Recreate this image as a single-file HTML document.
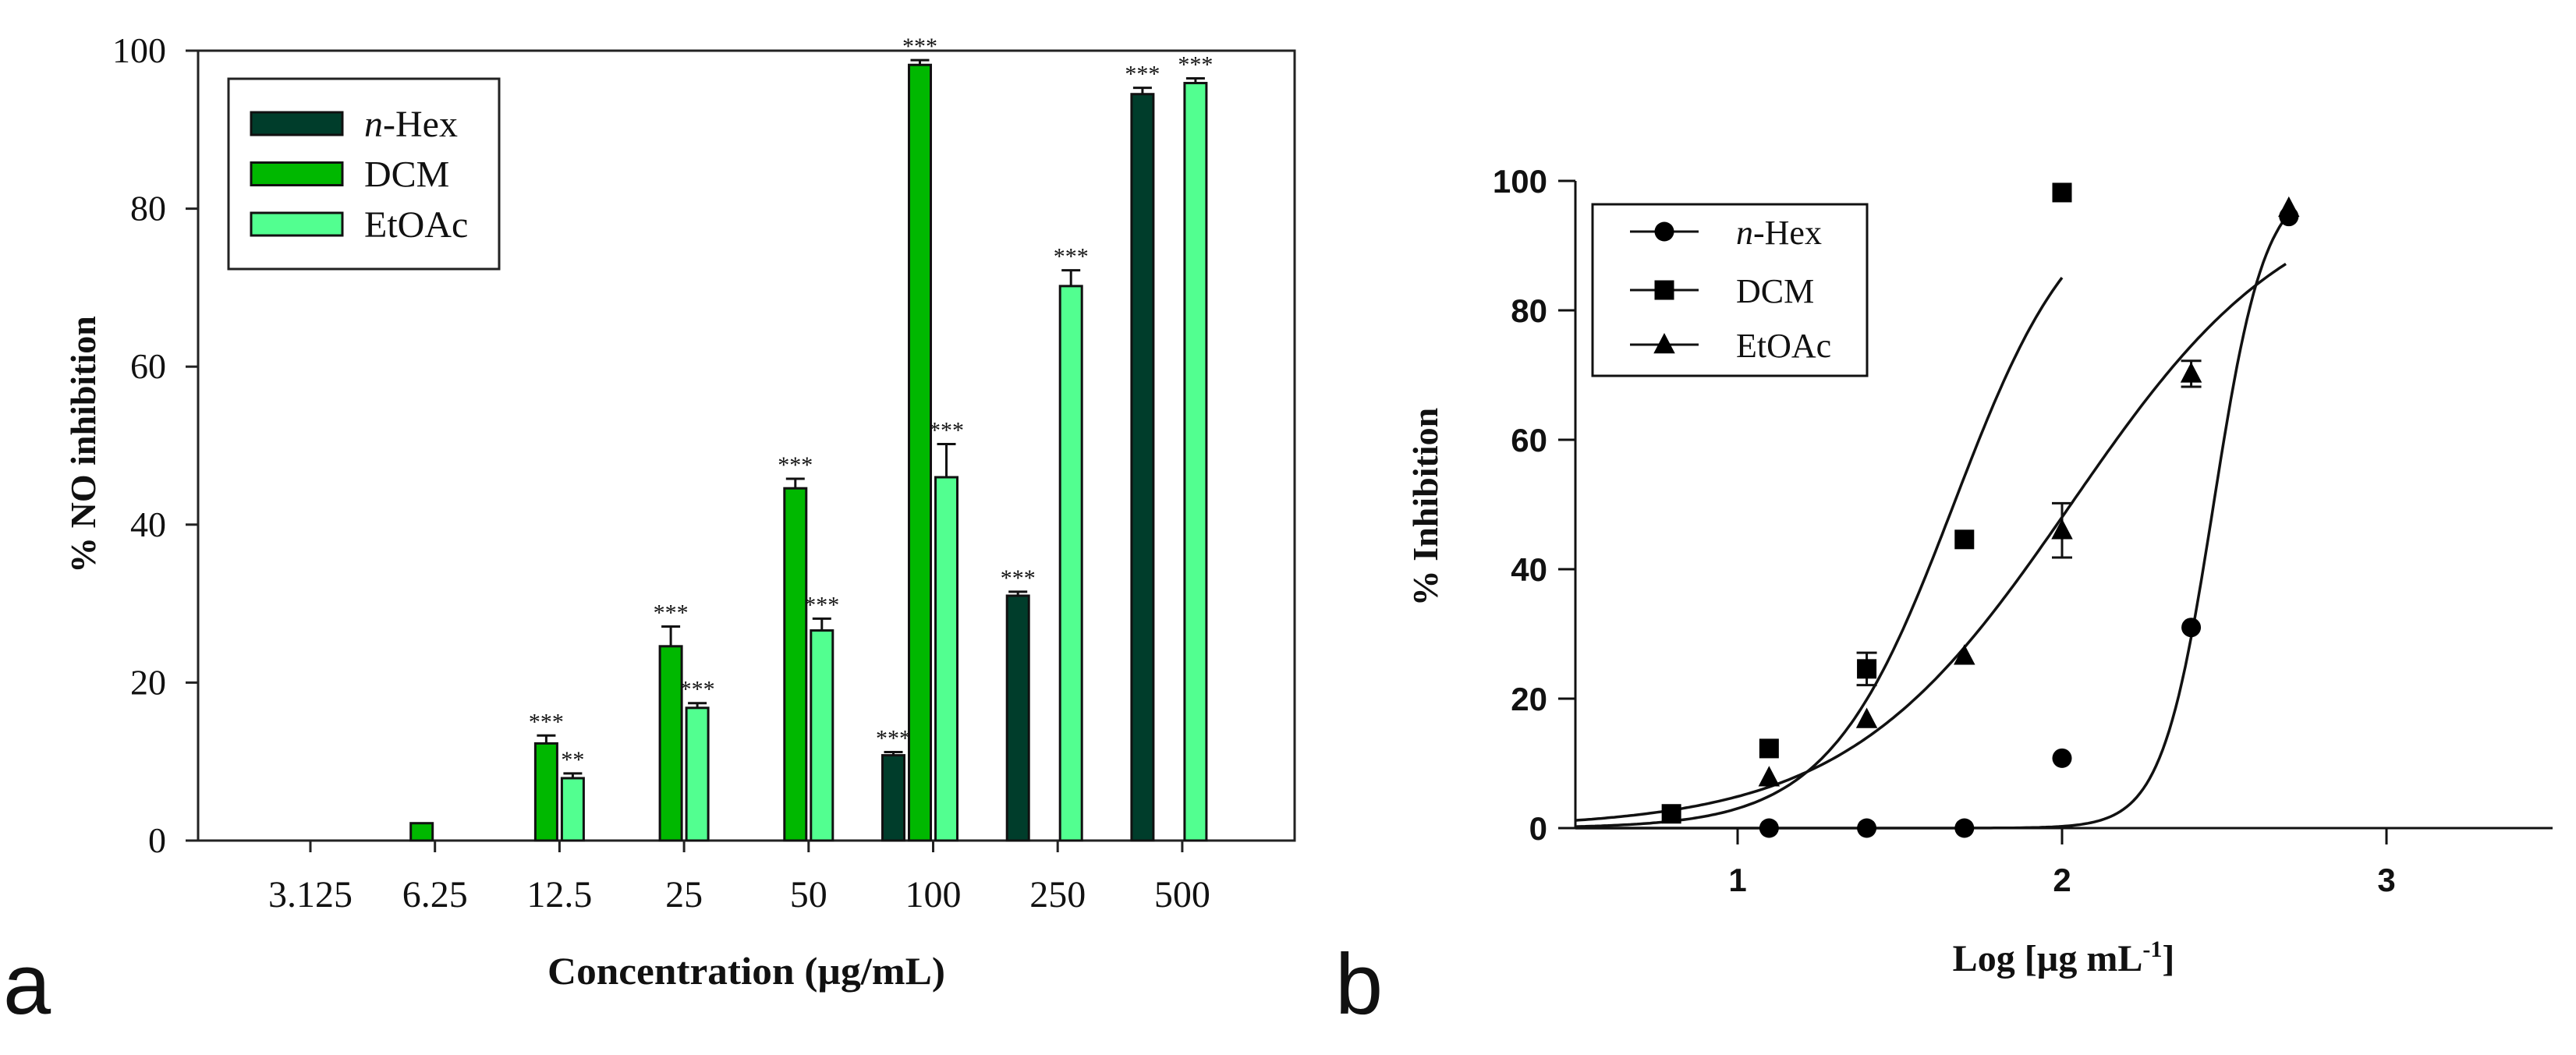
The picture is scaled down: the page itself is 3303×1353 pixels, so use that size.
<!DOCTYPE html>
<html><head><meta charset="utf-8"><style>
html,body{margin:0;padding:0;background:#fff;}
svg{display:block;}
</style></head><body>
<svg id="fig" width="3303" height="1353" viewBox="0 0 3303 1353" xmlns="http://www.w3.org/2000/svg">
<g id="pa"></g>
<g id="pb"></g>
</svg>
<script>
// ---------- Panel a data ----------
const concLabels = ["3.125","6.25","12.5","25","50","100","250","500"];
const hexVals  = [null,null,null,null,null,10.8,31.0,94.5];
const hexErr   = [0,0,0,0,0,0.4,0.5,0.8];
const hexSig   = ["","","","","","***","***","***"];
const dcmVals  = [null,2.2,12.3,24.6,44.6,98.2,null,null];
const dcmErr   = [0,0,1.0,2.5,1.2,0.6,0,0];
const dcmSig   = ["","","***","***","***","***","",""];
const etoVals  = [null,null,7.9,16.8,26.6,46.0,70.2,95.9];
const etoErr   = [0,0,0.6,0.6,1.5,4.2,2.0,0.6];
const etoSig   = ["","","**","***","***","***","***","***"];
const yTicksA  = [0,20,40,60,80,100];

// ---------- Panel b data ----------
const logX     = [0.796,1.097,1.398,1.699,2.0,2.398,2.699];
const hexPts   = [null,0,0,0,10.8,31.0,94.5];
const dcmPts   = [2.2,12.3,24.6,44.6,98.2,null,null];
const dcmPtErr = [0,0,2.5,0,0,0,0];
const etoPts   = [null,7.8,16.8,26.6,46.0,70.2,95.8];
const etoPtErr = [0,0,0,0,4.2,2.0,0];
const fitLogEC50 = [2.467,1.666,2.027]; // hex, dcm, etoac
const fitHill    = [5.49,2.26,1.256];
const fitXEnd    = [2.699,2.0,2.699];
const xTicksB  = [1,2,3];
const yTicksB  = [0,20,40,60,80,100];

const NS="http://www.w3.org/2000/svg";
function mk(parent,tag,attrs,text){const e=document.createElementNS(NS,tag);for(const k in attrs)e.setAttribute(k,attrs[k]);if(text!==undefined)e.textContent=text;parent.appendChild(e);return e;}

// ===== Panel a =====
const pa=document.getElementById('pa');
const A={l:254,r:1660,t:65,b:1078};
const yA=v=>A.b-(v/100)*(A.b-A.t);
const tickA=i=>398+i*159.7;
const serif='"Liberation Serif", serif';
let e;
e=mk(pa,'rect',{x:A.l,y:A.t,width:A.r-A.l,height:A.b-A.t,fill:'none',stroke:'#222','stroke-width':3});

e=mk(pa,'line',{x1:238,y1:A.t,x2:A.l,y2:A.t,stroke:'#222','stroke-width':3});
e=mk(pa,'line',{x1:238,y1:A.b,x2:A.l,y2:A.b,stroke:'#222','stroke-width':3});
yTicksA.forEach(v=>{
  const t=mk(pa,'line',{x1:238,y1:yA(v),x2:A.l,y2:yA(v),stroke:'#222','stroke-width':3});
  
  const l=mk(pa,'text',{x:213,y:yA(v)+15,'text-anchor':'end','font-family':serif,'font-size':46,fill:'#111'},String(v));
  
});
concLabels.forEach((c,i)=>{
  const x=tickA(i);
  const t=mk(pa,'line',{x1:x,y1:A.b,x2:x,y2:A.b+15,stroke:'#222','stroke-width':3});
  
  const l=mk(pa,'text',{x:x,y:1163,'text-anchor':'middle','font-family':serif,'font-size':48,fill:'#111'},c);
  
});
const seriesA=[
 {vals:hexVals,err:hexErr,sig:hexSig,off:-65,col:'#003d2b',name:'n-hex'},
 {vals:dcmVals,err:dcmErr,sig:dcmSig,off:-31,col:'#00b800',name:'dcm'},
 {vals:etoVals,err:etoErr,sig:etoSig,off:3,col:'#52ff90',name:'etoac'}];
seriesA.forEach(s=>{
  s.vals.forEach((v,i)=>{
    if(v===null)return;
    const x=tickA(i)+s.off,w=28;
    const r=mk(pa,'rect',{x:x,y:yA(v),width:w,height:A.b-yA(v),fill:s.col,stroke:'#111','stroke-width':3});
    
    let top=yA(v);
    if(s.err[i]>0){
      top=yA(v+s.err[i]);
      const eb=mk(pa,'path',{d:`M${x+w/2},${yA(v)} V${top} M${x+2},${top} H${x+w-2}`,stroke:'#111','stroke-width':3,fill:'none'});
      
    }
    if(s.sig[i]){
      const st=mk(pa,'text',{x:x+w/2,y:top-8,'text-anchor':'middle','font-family':serif,'font-size':30,fill:'#111'},s.sig[i]);
      
    }
  });
});
// legend a
e=mk(pa,'rect',{x:293,y:101,width:347,height:244,fill:'#fff',stroke:'#222','stroke-width':3});

[['n-Hex','#003d2b'],['DCM','#00b800'],['EtOAc','#52ff90']].forEach((it,k)=>{
  const y=144+k*64.5;
  const sw=mk(pa,'rect',{x:322,y:y,width:117,height:29,fill:it[1],stroke:'#111','stroke-width':3});
  
  const t=mk(pa,'text',{x:467,y:y+31,'font-family':serif,'font-size':48,fill:'#111'});
  
  if(k===0){mk(t,'tspan',{'font-style':'italic'},'n');mk(t,'tspan',{},'-Hex');}else t.textContent=it[0];
});
e=mk(pa,'text',{x:0,y:0,transform:'translate(122,570) rotate(-90)','text-anchor':'middle','font-family':serif,'font-weight':'bold','font-size':46,fill:'#111'},'% NO inhibition');

e=mk(pa,'text',{x:957,y:1262,'text-anchor':'middle','font-family':serif,'font-weight':'bold','font-size':50,textLength:510,lengthAdjust:'spacingAndGlyphs',fill:'#111'},'Concentration (µg/mL)');

e=mk(pa,'text',{x:4,y:1300,'font-family':'"Liberation Sans", sans-serif','font-size':110,fill:'#111'},'a');


// ===== Panel b =====
const pb=document.getElementById('pb');
const B={l:2020,r:3273,t:232,b:1062,x0:0.5,x1:3.5};
const xB=v=>B.l+(v-B.x0)/(B.x1-B.x0)*(3268-B.l);
const yB=v=>B.b-(v/100)*(B.b-B.t);
const sans='"Liberation Sans", sans-serif';
e=mk(pb,'line',{x1:B.l,y1:B.t,x2:B.l,y2:B.b,stroke:'#111','stroke-width':3});

e=mk(pb,'line',{x1:1998,y1:B.b,x2:B.r,y2:B.b,stroke:'#111','stroke-width':3});

yTicksB.forEach(v=>{
  const t=mk(pb,'line',{x1:1998,y1:yB(v),x2:B.l,y2:yB(v),stroke:'#111','stroke-width':3});
  
  const l=mk(pb,'text',{x:1984,y:yB(v)+15,'text-anchor':'end','font-family':sans,'font-weight':'bold','font-size':42,fill:'#111'},String(v));
  
});
xTicksB.forEach(v=>{
  const t=mk(pb,'line',{x1:xB(v),y1:B.b,x2:xB(v),y2:B.b+21,stroke:'#111','stroke-width':3});
  
  const l=mk(pb,'text',{x:xB(v),y:1143,'text-anchor':'middle','font-family':sans,'font-weight':'bold','font-size':42,fill:'#111'},String(v));
  
});
// fitted curves
['n-hex','dcm','etoac'].forEach((n,k)=>{
  let d='';
  for(let x=B.x0;x<=fitXEnd[k]+1e-9;x+=0.01){
    const y=100/(1+Math.pow(10,(fitLogEC50[k]-x)*fitHill[k]));
    d+=(d?' L':'M')+xB(x).toFixed(1)+','+yB(y).toFixed(1);
  }
  const p=mk(pb,'path',{d:d,fill:'none',stroke:'#111','stroke-width':3.5});
  
});
function marker(g,type,cx,cy,s){
  let m;
  if(type==='circle')m=mk(g,'circle',{cx:cx,cy:cy,r:s*0.5,fill:'#000'});
  else if(type==='square')m=mk(g,'rect',{x:cx-s/2,y:cy-s/2,width:s,height:s,fill:'#000'});
  else m=mk(g,'path',{d:`M${cx},${cy-s*0.6} L${cx+s*0.55},${cy+s*0.45} L${cx-s*0.55},${cy+s*0.45} Z`,fill:'#000'});
  return m;
}
const seriesB=[
 {pts:hexPts,err:null,type:'circle',name:'n-hex'},
 {pts:dcmPts,err:dcmPtErr,type:'square',name:'dcm'},
 {pts:etoPts,err:etoPtErr,type:'triangle',name:'etoac'}];
seriesB.forEach(s=>{
  s.pts.forEach((v,i)=>{
    if(v===null)return;
    const cx=xB(logX[i]),cy=yB(v);
    if(s.err&&s.err[i]>0){
      const t=yB(v+s.err[i]),b=yB(v-s.err[i]);
      const eb=mk(pb,'path',{d:`M${cx},${t} V${b} M${cx-13},${t} H${cx+13} M${cx-13},${b} H${cx+13}`,stroke:'#111','stroke-width':3,fill:'none'});
      
    }
    const m=marker(pb,s.type,cx,cy,25);
    
  });
});
// legend b
e=mk(pb,'rect',{x:2042,y:262,width:352,height:220,fill:'#fff',stroke:'#111','stroke-width':3});

[['circle','n-Hex'],['square','DCM'],['triangle','EtOAc']].forEach((it,k)=>{
  const y=[297,372,442][k];
  const ln=mk(pb,'line',{x1:2090,y1:y,x2:2178,y2:y,stroke:'#111','stroke-width':3});
  
  const m=marker(pb,it[0],2134,y,25);
  
  const t=mk(pb,'text',{x:2226,y:y+16,'font-family':serif,'font-size':44,fill:'#111'});
  
  if(k===0){mk(t,'tspan',{'font-style':'italic'},'n');mk(t,'tspan',{},'-Hex');}else t.textContent=it[1];
});
e=mk(pb,'text',{x:0,y:0,transform:'translate(1843,650) rotate(-90)','text-anchor':'middle','font-family':serif,'font-weight':'bold','font-size':46,fill:'#111'},'% Inhibition');

e=mk(pb,'text',{x:2646,y:1245,'text-anchor':'middle','font-family':serif,'font-weight':'bold','font-size':48,fill:'#111'});

mk(e,'tspan',{},'Log [µg mL');mk(e,'tspan',{dy:-18,'font-size':30},'-1');mk(e,'tspan',{dy:18},']');
e=mk(pb,'text',{x:1712,y:1300,'font-family':sans,'font-size':110,fill:'#111'},'b');

</script>
</body></html>
